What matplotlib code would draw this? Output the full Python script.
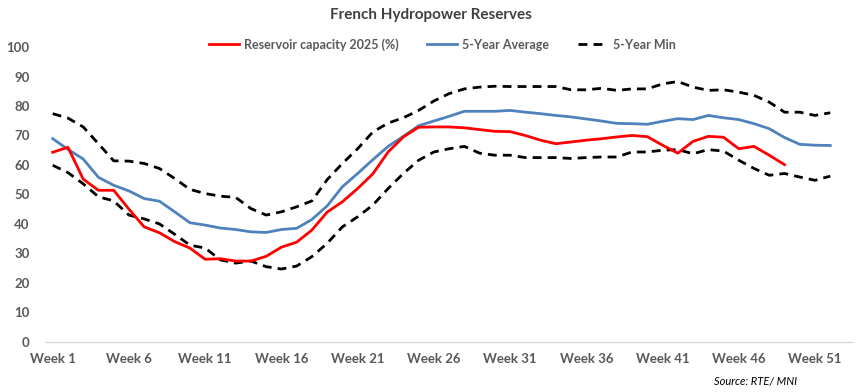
import matplotlib
matplotlib.use("Agg")
import matplotlib.pyplot as plt

# weekly values (% of capacity)
weeks = list(range(1, 53))

res_2025 = [64.3, 66.0, 55.2, 51.4, 51.4, 45.0, 39.0, 37.0, 34.0, 31.8,
            28.0, 28.2, 27.4, 27.4, 29.0, 32.1, 33.8, 37.9, 44.0, 47.5,
            52.0, 57.0, 64.4, 69.5, 72.8, 72.9, 72.9, 72.6, 72.0, 71.4,
            71.3, 70.0, 68.4, 67.2, 67.8, 68.4, 68.9, 69.5, 70.0, 69.6,
            66.7, 64.0, 68.0, 69.7, 69.4, 65.5, 66.3, 63.3, 60.1]

avg_5y = [68.9, 65.3, 62.0, 55.8, 53.1, 51.2, 48.6, 47.7, 44.1, 40.4,
          39.6, 38.6, 38.1, 37.3, 37.1, 38.1, 38.5, 41.5, 46.1, 52.6,
          57.1, 61.8, 66.3, 69.7, 73.3, 74.9, 76.5, 78.2, 78.2, 78.2,
          78.5, 77.9, 77.4, 76.8, 76.3, 75.6, 74.9, 74.1, 74.0, 73.8,
          74.8, 75.7, 75.4, 76.8, 76.0, 75.4, 74.0, 72.3, 69.3, 67.0,
          66.7, 66.6]

max_5y = [77.4, 75.9, 72.9, 67.2, 61.4, 61.3, 60.5, 58.8, 55.4, 51.7,
          50.3, 49.4, 49.0, 45.2, 43.0, 44.1, 45.8, 47.8, 55.0, 60.5,
          65.5, 71.2, 74.2, 76.0, 78.5, 81.7, 84.2, 85.8, 86.4, 86.7,
          86.6, 86.6, 86.6, 86.6, 85.5, 85.5, 86.0, 85.3, 85.8, 85.8,
          87.5, 88.3, 86.4, 85.3, 85.5, 84.7, 83.6, 81.3, 77.9, 77.9,
          76.8, 77.7]

min_5y = [59.9, 57.4, 53.6, 49.2, 47.8, 43.0, 41.7, 40.0, 36.5, 32.8,
          31.8, 27.8, 26.7, 27.4, 25.5, 24.7, 25.7, 28.9, 33.4, 39.0,
          42.4, 46.4, 52.0, 57.1, 61.6, 64.4, 65.5, 66.3, 64.0, 63.3,
          63.3, 62.5, 62.5, 62.5, 62.2, 62.5, 62.7, 62.7, 64.4, 64.4,
          65.0, 65.2, 63.8, 65.2, 64.7, 61.6, 58.8, 56.5, 57.1, 55.9,
          54.8, 56.2]

tick_weeks = [1, 6, 11, 16, 21, 26, 31, 36, 41, 46, 51]
tick_labels = [f"Week {w}" for w in tick_weeks]

GREY = "#595959"
plt.rcParams["font.family"] = ["Lato", "DejaVu Sans"]

fig = plt.figure(figsize=(8.67, 3.92), dpi=100)
ax = fig.add_axes([0.052, 0.128, 0.932, 0.752])

lw = 2.0
ax.plot(weeks[:len(res_2025)], res_2025, color="#FF0000", lw=lw,
        label="Reservoir capacity 2025 (%)", zorder=4)
ax.plot(weeks, avg_5y, color="#4F81BD", lw=lw, label="5-Year Average", zorder=3)
ax.plot(weeks, max_5y, color="black", lw=lw, dashes=(3.2, 2.2), zorder=2)
ax.plot(weeks, min_5y, color="black", lw=lw, dashes=(3.2, 2.2),
        label="5-Year Min", zorder=2)

ax.set_xlim(0.5, 53.5)
ax.set_ylim(0, 100)
ax.set_yticks(range(0, 101, 10))
ax.set_xticks(tick_weeks)
ax.set_xticklabels(tick_labels)

for s in ("top", "right", "left"):
    ax.spines[s].set_visible(False)
ax.spines["bottom"].set_color("#D9D9D9")
ax.spines["bottom"].set_linewidth(1.0)
ax.tick_params(axis="both", length=0, labelsize=9.5, labelcolor=GREY)
ax.tick_params(axis="x", pad=8)
ax.tick_params(axis="y", pad=11)
for t in ax.get_xticklabels() + ax.get_yticklabels():
    t.set_fontweight("bold")

fig.text(0.497, 0.962, "French Hydropower Reserves", ha="center", va="center",
         fontsize=11, fontweight="bold", color="#404040")

leg = fig.legend(loc="center", bbox_to_anchor=(0.51, 0.887), ncol=3, frameon=False,
                 fontsize=9, handlelength=2.4, columnspacing=2.3, handletextpad=0.4)
for t in leg.get_texts():
    t.set_color(GREY)
    t.set_fontweight("bold")

fig.text(0.872, 0.027, "Source: RTE/ MNI", ha="center", va="center",
         fontsize=8, style="italic", color="black")

fig.savefig("out.png", dpi=100)
